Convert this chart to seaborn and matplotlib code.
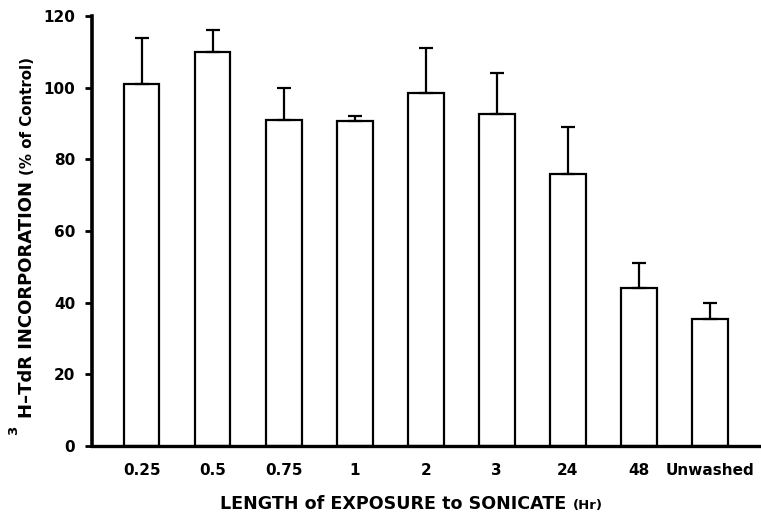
"""
Biểu đồ cột: 3H-TdR incorporation theo thời gian tiếp xúc với sonicate.
"""

import matplotlib
matplotlib.use("Agg")
import matplotlib.pyplot as plt
import pandas as pd
import seaborn as sns

# Dữ liệu
categories = ["0.25", "0.5", "0.75", "1", "2", "3", "24", "48", "Unwashed"]
means = [101, 110, 91, 90.7, 98.5, 92.7, 76, 44, 35.5]
sem = [13, 6, 9, 1.3, 12.5, 11.5, 13, 7, 4.5]

W, H = 761, 512  # kích thước ảnh (px)

sns.set_theme(style="ticks", rc={
    "axes.edgecolor": "black", "text.color": "black",
    "xtick.color": "black", "ytick.color": "black",
    "axes.labelcolor": "black",
})
plt.rcParams["font.family"] = ["DejaVu Sans"]
plt.rcParams["font.weight"] = "bold"

df = pd.DataFrame({"exposure": categories, "incorporation": means})

fig = plt.figure(figsize=(W / 100, H / 100), dpi=100)
ax = fig.add_axes([92 / W, 1 - 446 / H, 1 - 92 / W, (446 - 16) / H])

sns.barplot(
    data=df, x="exposure", y="incorporation", order=categories,
    color="white", edgecolor="black", linewidth=1.6, width=0.5,
    errorbar=None, ax=ax,
)
# Chỉ vẽ thanh sai số phía trên
ax.errorbar(
    range(len(categories)), means, yerr=[[0] * len(sem), sem],
    fmt="none", ecolor="black", elinewidth=1.6, capsize=4.7, capthick=1.6,
)

ax.set_ylim(0, 120)
ax.set_xlim(-0.7, 8.72)
ax.set_yticks(range(0, 121, 20))
sns.despine(ax=ax)
ax.spines["left"].set_linewidth(2.6)
ax.spines["bottom"].set_linewidth(2.4)
ax.tick_params(axis="y", length=5, width=2, direction="out", labelsize=11, pad=7)
ax.tick_params(axis="x", length=0, labelsize=11, pad=12)
for lab in ax.get_xticklabels() + ax.get_yticklabels():
    lab.set_fontweight("bold")
ax.set_xlabel("")
ax.set_ylabel("")

# Nhãn trục gồm nhiều phần với cỡ chữ khác nhau
fig.canvas.draw()
renderer = fig.canvas.get_renderer()
inv = fig.transFigure.inverted()

# Nhãn trục x
x0, y0 = 220 / W, 1 - 509 / H
t1 = fig.text(x0, y0, "LENGTH of EXPOSURE to SONICATE ", fontsize=12.6,
              fontweight="bold", ha="left", va="baseline")
bb = inv.transform(t1.get_window_extent(renderer))
fig.text(bb[1][0], y0, "(Hr)", fontsize=9.5, fontweight="bold",
         ha="left", va="baseline")

# Nhãn trục y (xoay 90 độ, đọc từ dưới lên)
yx, yy = 32 / W, 1 - 418 / H
fig.text(17 / W, 1 - 435 / H, "3", fontsize=9.5, fontweight="bold",
         rotation=90, rotation_mode="anchor", ha="left", va="baseline")
t2 = fig.text(yx, yy, "H\u2013TdR INCORPORATION ", fontsize=13,
              fontweight="bold", rotation=90, rotation_mode="anchor",
              ha="left", va="baseline")
bb = inv.transform(t2.get_window_extent(renderer))
fig.text(yx, bb[1][1], "(% of Control)", fontsize=10.8, fontweight="bold",
         rotation=90, rotation_mode="anchor", ha="left", va="baseline")

plt.savefig("out.png", dpi=100)
plt.close()
